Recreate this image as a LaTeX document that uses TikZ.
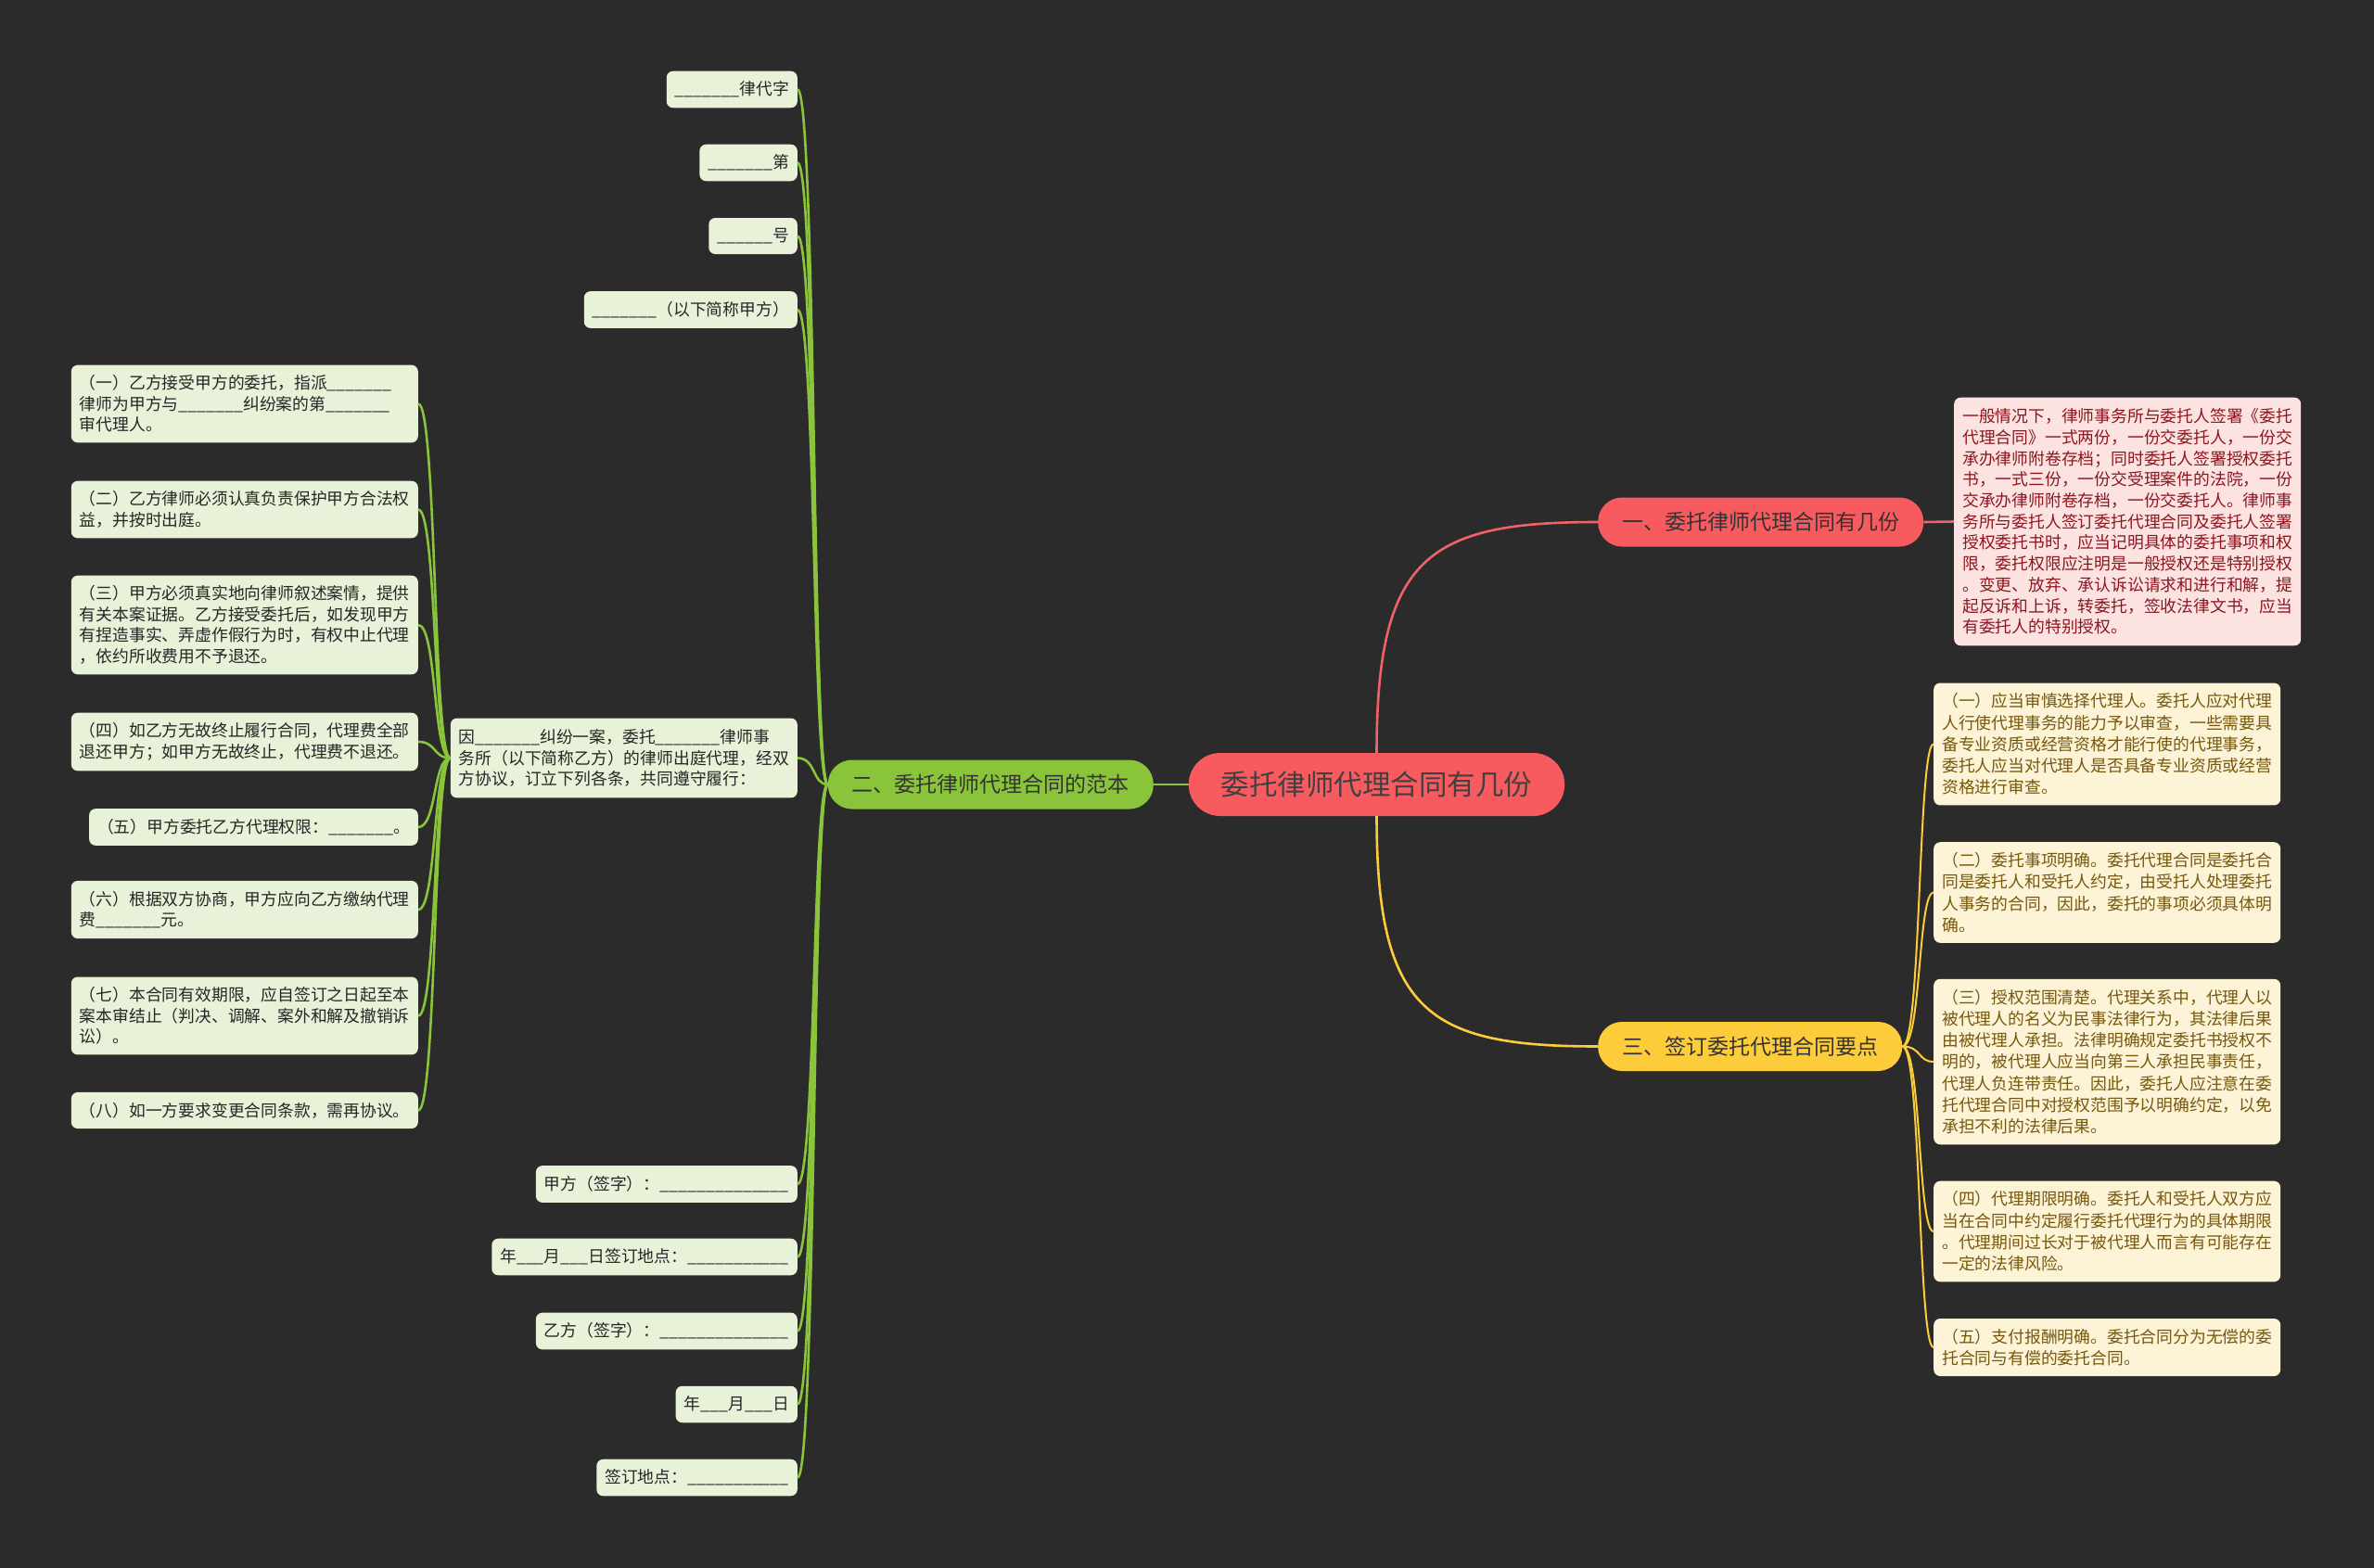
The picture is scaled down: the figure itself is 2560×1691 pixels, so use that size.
\documentclass[tikz,border=0pt]{standalone}
\usepackage{fontspec}
\newfontfamily\cjk{Noto Sans CJK SC}
\definecolor{bgc}{RGB}{43,43,43}
\definecolor{rootred}{RGB}{247,91,95}
\definecolor{redline}{RGB}{240,98,104}
\definecolor{redleaf}{RGB}{253,226,226}
\definecolor{redtext}{RGB}{140,22,30}
\definecolor{grn}{RGB}{137,196,59}
\definecolor{grnleaf}{RGB}{232,242,216}
\definecolor{ylw}{RGB}{253,204,58}
\definecolor{ylwleaf}{RGB}{253,243,214}
\definecolor{ylwtext}{RGB}{118,88,14}
\newcommand{\blanks}[1]{\foreach\i in{1,...,#1}{\_}}
\begin{document}
\begin{tikzpicture}[x=1pt,y=-1pt,
  topic/.style={rounded corners=26,minimum height=53,inner xsep=26,inner ysep=0,text=black!80,font=\cjk\fontsize{23}{28}\selectfont},
  leaf/.style={rounded corners=7,inner xsep=9,inner ysep=11,align=left,font=\cjk\fontsize{17.8}{22.5}\selectfont},
  gleaf/.style={leaf,fill=grnleaf,text=black!85},
  yleaf/.style={leaf,fill=ylwleaf,text=ylwtext,font=\cjk\fontsize{17.8}{23.3}\selectfont},
  gline/.style={grn,line width=2.6},
  yline/.style={ylw,line width=2}]
\useasboundingbox[fill=bgc] (0,0) rectangle (2560,1691);
\node[fill=rootred,rounded corners=34,minimum height=68,inner xsep=35,text=black!75,font=\cjk\fontsize{30.5}{36}\selectfont] (root) at (1484.5,846) {委托律师代理合同有几份};
\node[topic,fill=rootred,anchor=west] (b1) at (1723,563) {一、委托律师代理合同有几份};
\node[topic,fill=grn,anchor=east] (b2) at (1244,846) {二、委托律师代理合同的范本};
\node[topic,fill=ylw,anchor=west] (b3) at (1723,1128.5) {三、签订委托代理合同要点};
\draw[redline,line width=2.6] (root.north) .. controls (1484.5,600) and (1540,563) .. (b1.west);
\draw[yline,line width=2.6] (root.south) .. controls (1484.5,1092) and (1540,1128.5) .. (b3.west);
\draw[gline] (root.west) -- (b2.east);
\node[leaf,fill=redleaf,text=redtext,inner ysep=12,font=\cjk\fontsize{17.8}{22.7}\selectfont,anchor=west] (r1) at (2107,562.5) {一般情况下，律师事务所与委托人签署《委托\\代理合同》一式两份，一份交委托人，一份交\\承办律师附卷存档；同时委托人签署授权委托\\书，一式三份，一份交受理案件的法院，一份\\交承办律师附卷存档，一份交委托人。律师事\\务所与委托人签订委托代理合同及委托人签署\\授权委托书时，应当记明具体的委托事项和权\\限，委托权限应注明是一般授权还是特别授权\\。变更、放弃、承认诉讼请求和进行和解，提\\起反诉和上诉，转委托，签收法律文书，应当\\有委托人的特别授权。};
\draw[redline,line width=2.6] (b1.east) -- (r1.west);
\node[gleaf,inner ysep=12,anchor=east] (g0) at (860,817.5) {因\blanks{7}纠纷一案，委托\blanks{7}律师事\\务所（以下简称乙方）的律师出庭代理，经双\\方协议，订立下列各条，共同遵守履行：};
\draw[gline] (b2.west) .. controls (876,846) and (880,817.5) .. (g0.east);
\foreach \y/\n/\t in {96.5/ga/{\blanks{7}律代字},175.5/gb/{\blanks{7}第},254.5/gc/{\blanks{6}号},334/gd/{\blanks{7}（以下简称甲方）},1277/ge/{甲方（签字）：\blanks{14}},1355.5/gf/{年\blanks{3}月\blanks{3}日签订地点：\blanks{11}},1435.5/gg/{乙方（签字）：\blanks{14}},1514.5/gh/{年\blanks{3}月\blanks{3}日},1593.5/gi/{签订地点：\blanks{11}}}{
  \node[gleaf,minimum height=39,anchor=east] (\n) at (860,\y) {\t};
  \draw[gline] (b2.west) .. controls (876,846) and (880,\y) .. (\n.east);
}
\node[gleaf,text width=356,anchor=east] (l1) at (451,435.5) {（一）乙方接受甲方的委托，指派\blanks{7}\\律师为甲方与\blanks{7}纠纷案的第\blanks{7}\\审代理人。};
\draw[gline] (g0.west) .. controls (467,817.5) and (471,435.5) .. (l1.east);
\foreach \y/\n/\t in {549.5/l2/{（二）乙方律师必须认真负责保护甲方合法权\\益，并按时出庭。},674/l3/{（三）甲方必须真实地向律师叙述案情，提供\\有关本案证据。乙方接受委托后，如发现甲方\\有捏造事实、弄虚作假行为时，有权中止代理\\，依约所收费用不予退还。},800/l4/{（四）如乙方无故终止履行合同，代理费全部\\退还甲方；如甲方无故终止，代理费不退还。},892/l5/{（五）甲方委托乙方代理权限：\blanks{7}。},981/l6/{（六）根据双方协商，甲方应向乙方缴纳代理\\费\blanks{7}元。},1095.5/l7/{（七）本合同有效期限，应自签订之日起至本\\案本审结止（判决、调解、案外和解及撤销诉\\讼）。},1197.5/l8/{（八）如一方要求变更合同条款，需再协议。}}{
  \node[gleaf,anchor=east] (\n) at (451,\y) {\t};
  \draw[gline] (g0.west) .. controls (467,817.5) and (471,\y) .. (\n.east);
}
\foreach \y/\n/\t in {802.5/y1/{（一）应当审慎选择代理人。委托人应对代理\\人行使代理事务的能力予以审查，一些需要具\\备专业资质或经营资格才能行使的代理事务，\\委托人应当对代理人是否具备专业资质或经营\\资格进行审查。},962.5/y2/{（二）委托事项明确。委托代理合同是委托合\\同是委托人和受托人约定，由受托人处理委托\\人事务的合同，因此，委托的事项必须具体明\\确。},1145/y3/{（三）授权范围清楚。代理关系中，代理人以\\被代理人的名义为民事法律行为，其法律后果\\由被代理人承担。法律明确规定委托书授权不\\明的，被代理人应当向第三人承担民事责任，\\代理人负连带责任。因此，委托人应注意在委\\托代理合同中对授权范围予以明确约定，以免\\承担不利的法律后果。},1328/y4/{（四）代理期限明确。委托人和受托人双方应\\当在合同中约定履行委托代理行为的具体期限\\。代理期间过长对于被代理人而言有可能存在\\一定的法律风险。},1453/y5/{（五）支付报酬明确。委托合同分为无偿的委\\托合同与有偿的委托合同。}}{
  \node[yleaf,anchor=west] (\n) at (2085,\y) {\t};
  \draw[yline] (b3.east) .. controls (2072,1128.5) and (2068,\y) .. (\n.west);
}
\end{tikzpicture}
\end{document}
